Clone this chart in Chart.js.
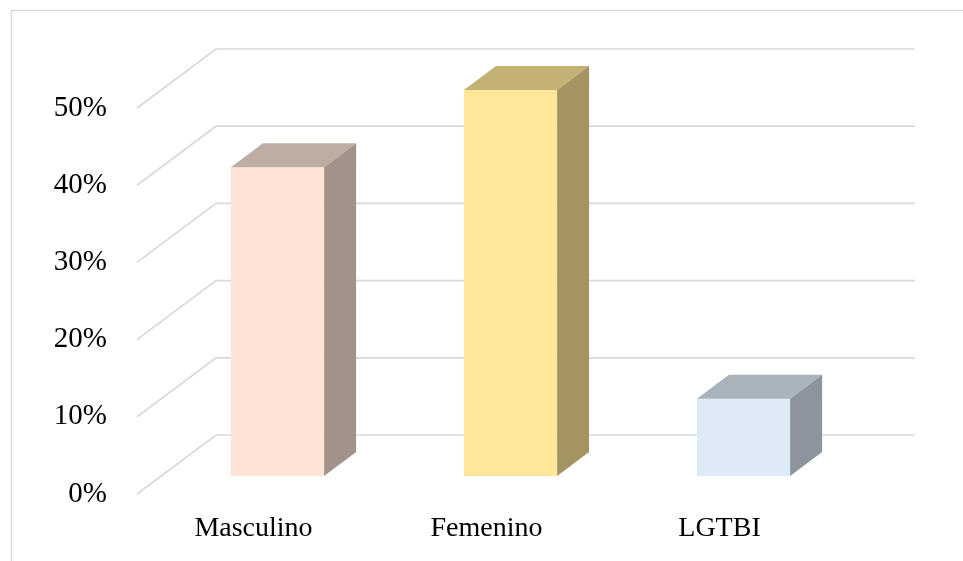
<!DOCTYPE html>
<html>
<head>
<meta charset="utf-8">
<script src="https://cdn.jsdelivr.net/npm/chart.js@4.4.1/dist/chart.umd.min.js"></script>
<style>
    html, body { margin: 0; padding: 0; background: #ffffff; }
    #wrap { width: 963px; height: 561px; position: relative; }
</style>
</head>
<body>
<div id="wrap"><canvas id="chart"></canvas></div>
<script>
// Datos
const categories = ['Masculino', 'Femenino', 'LGTBI'];
const values = [40, 50, 10];
const axisMin = 0;
const axisMax = 50;
const axisStep = 10;

// Colores de las caras (frente, arriba, lado)
const frontColors = ['#FCE4D6', '#FFE699', '#DEEBF7'];
const topColors = ['#BEADA3', '#C4B175', '#A9B3BC'];
const sideColors = ['#A2928A', '#A39461', '#8C959E'];

// Profundidad de la barra y de las paredes
const barDepth = { dx: 32, dy: 24 };
const wallBack = { dx: 55, dy: 41 };
const wallFront = { dx: 24, dy: 18 };
const gridColor = '#D9D9D9';

// Plugin para el efecto 3D
const threeDPlugin = {
    id: 'threeD',
    beforeDraw(chart) {
        const ctx = chart.ctx;
        ctx.save();
        ctx.strokeStyle = gridColor;
        ctx.lineWidth = 1.3;
        ctx.strokeRect(11.5, 10.5, chart.width + 20, chart.height + 20);
        ctx.restore();
    },
    beforeDatasetsDraw(chart) {
        const ctx = chart.ctx;
        const area = chart.chartArea;
        const yScale = chart.scales.y;
        ctx.save();
        ctx.strokeStyle = gridColor;
        ctx.lineWidth = 1.7;
        yScale.ticks.forEach(tick => {
            const y = yScale.getPixelForValue(tick.value);
            ctx.beginPath();
            ctx.moveTo(area.left - wallFront.dx, y + wallFront.dy);
            ctx.lineTo(area.left + wallBack.dx, y - wallBack.dy);
            ctx.lineTo(area.right + wallBack.dx, y - wallBack.dy);
            ctx.stroke();
        });
        ctx.restore();
    },
    afterDatasetsDraw(chart) {
        const ctx = chart.ctx;
        const meta = chart.getDatasetMeta(0);
        ctx.save();
        meta.data.forEach((bar, i) => {
            const left = bar.x - bar.width / 2;
            const right = bar.x + bar.width / 2;
            const top = bar.y;
            const base = bar.base;

            // cara superior
            ctx.fillStyle = topColors[i];
            ctx.beginPath();
            ctx.moveTo(left, top);
            ctx.lineTo(left + barDepth.dx, top - barDepth.dy);
            ctx.lineTo(right + barDepth.dx, top - barDepth.dy);
            ctx.lineTo(right, top);
            ctx.closePath();
            ctx.fill();

            // cara lateral
            ctx.fillStyle = sideColors[i];
            ctx.beginPath();
            ctx.moveTo(right, top);
            ctx.lineTo(right + barDepth.dx, top - barDepth.dy);
            ctx.lineTo(right + barDepth.dx, base - barDepth.dy);
            ctx.lineTo(right, base);
            ctx.closePath();
            ctx.fill();
        });
        ctx.restore();
    }
};

const chartData = {
    labels: categories,
    datasets: [
        {
            label: 'Género',
            data: values,
            backgroundColor: frontColors,
            borderWidth: 0,
            barPercentage: 0.4,
            categoryPercentage: 1
        }
    ]
};

const chartConfig = {
    type: 'bar',
    data: chartData,
    options: {
        responsive: true,
        maintainAspectRatio: false,
        animation: false,
        layout: {
            padding: { left: 0, top: 90, right: 103, bottom: 0 }
        },
        plugins: {
            legend: { display: false },
            tooltip: { enabled: false }
        },
        scales: {
            x: {
                grid: { display: false, drawTicks: false },
                border: { display: false },
                ticks: {
                    color: '#000000',
                    padding: 36,
                    labelOffset: -wallFront.dx,
                    font: { family: 'Liberation Serif', size: 28 }
                },
                afterFit(scale) {
                    scale.height = 85;
                }
            },
            y: {
                min: axisMin,
                max: axisMax,
                grid: { display: false, drawTicks: false },
                border: { display: false },
                ticks: {
                    stepSize: axisStep,
                    color: '#000000',
                    padding: 54,
                    labelOffset: wallFront.dy,
                    font: { family: 'Liberation Serif', size: 29 },
                    callback: value => value + '%'
                },
                afterFit(scale) {
                    scale.width = 161;
                }
            }
        }
    },
    plugins: [threeDPlugin]
};

new Chart(document.getElementById('chart'), chartConfig);
</script>
</body>
</html>
